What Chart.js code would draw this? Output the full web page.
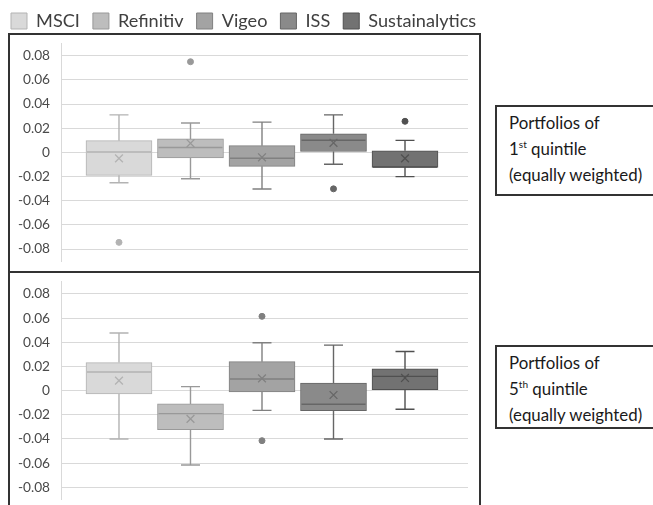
<!DOCTYPE html>
<html>
<head>
<meta charset="utf-8">
<script src="https://cdn.jsdelivr.net/npm/chart.js@4/dist/chart.umd.min.js"></script>
<style>
  html, body { margin: 0; padding: 0; background: #fff; }
  body { width: 653px; height: 505px; overflow: hidden; position: relative; font-family: Lato, "Open Sans", sans-serif; }
  canvas { position: absolute; left: 0; }
  #c1 { top: 0; }
  #c2 { top: 260px; }
  .frame { position: absolute; left: 8px; top: 33px; width: 473px; height: 520px; border: 2px solid #333; box-sizing: border-box; z-index: 3; pointer-events: none; }
  .divider { position: absolute; left: 8px; top: 271px; width: 473px; height: 2px; background: #333; z-index: 3; }
  .note { position: absolute; left: 495px; width: 190px; border: 2px solid #333; box-sizing: border-box; background: #fff; color: #1a1a1a; padding: 3px 0 0 12px; line-height: 26px; white-space: nowrap; z-index: 4; }
  .note sup { font-size: 0.6em; line-height: 0; vertical-align: 0.7em; }
</style>
</head>
<body>
<div class="frame"></div>
<div class="divider"></div>
<canvas id="c1" width="520" height="285" style="width:520px;height:285px"></canvas>
<canvas id="c2" width="520" height="260" style="width:520px;height:260px"></canvas>
<div class="note" id="n1" style="top:105px;height:91px">Portfolios of<br>1<sup>st</sup> quintile<br>(equally weighted)</div>
<div class="note" id="n2" style="top:345px;height:84px">Portfolios of<br>5<sup>th</sup> quintile<br>(equally weighted)</div>
<script>
// ---------- data ----------
const SERIES = ['MSCI', 'Refinitiv', 'Vigeo', 'ISS', 'Sustainalytics'];
const Y_TICKS = [0.08, 0.06, 0.04, 0.02, 0, -0.02, -0.04, -0.06, -0.08];

// Portfolios of 1st quintile (equally weighted)
const Q1_MIN      = [-0.0251, -0.0218, -0.0303, -0.0098, -0.0201];
const Q1_LOWER    = [-0.0190, -0.0046, -0.0116,  0.0007, -0.0124];
const Q1_MEDIAN   = [ 0.0003,  0.0040, -0.0049,  0.0100, -0.0121];
const Q1_UPPER    = [ 0.0097,  0.0111,  0.0055,  0.0154,  0.0013];
const Q1_MAX      = [ 0.0310,  0.0243,  0.0250,  0.0310,  0.0099];
const Q1_MEAN     = [-0.0050,  0.0075, -0.0041,  0.0079, -0.0050];
const Q1_OUTLIERS = [[-0.0745], [0.0750], [], [-0.0302], [0.0257]];

// Portfolios of 5th quintile (equally weighted)
const Q5_MIN      = [-0.0400, -0.0615, -0.0163, -0.0400, -0.0154];
const Q5_LOWER    = [-0.0028, -0.0323, -0.0011, -0.0166,  0.0008];
const Q5_MEDIAN   = [ 0.0154, -0.0190,  0.0097, -0.0113,  0.0118];
const Q5_UPPER    = [ 0.0232, -0.0110,  0.0240,  0.0063,  0.0180];
const Q5_MAX      = [ 0.0477,  0.0033,  0.0397,  0.0377,  0.0324];
const Q5_MEAN     = [ 0.0083, -0.0234,  0.0102, -0.0036,  0.0105];
const Q5_OUTLIERS = [[], [], [0.0615, -0.0414], [], []];

// ---------- styles ----------
const FILL = ['#d9d9d9', '#bdbdbd', '#a3a3a3', '#8a8a8a', '#727272'];
const LINE = ['#b3b3b3', '#999999', '#808080', '#666666', '#505050'];
const FONT = 'Lato';

function fitSize(text, target) {
  const c = document.createElement('canvas').getContext('2d');
  c.font = '100px ' + FONT;
  return 100 * target / c.measureText(text).width;
}
const legendFs = fitSize('Sustainalytics', 108);
const tickFs = fitSize('0.08', 27);
const noteFs = fitSize('(equally weighted)', 134);
document.getElementById('n1').style.fontSize = noteFs + 'px';
document.getElementById('n2').style.fontSize = noteFs + 'px';

Chart.defaults.font.family = FONT;
Chart.defaults.animation = false;

function whiskerPlugin(st) {
  return {
    id: 'whiskers',
    afterDatasetDraw(chart, args) {
      const meta = args.meta;
      if (meta.type !== 'bar') return;
      const i = args.index;
      const bar = meta.data[0];
      if (!bar) return;
      const y = chart.scales.y;
      const ctx = chart.ctx;
      const x = bar.x, half = bar.width / 2, cap = 9.5;
      ctx.save();
      ctx.strokeStyle = LINE[i];
      ctx.lineWidth = 1.4;
      ctx.beginPath();
      ctx.moveTo(x, y.getPixelForValue(st.upper[i])); ctx.lineTo(x, y.getPixelForValue(st.max[i]));
      ctx.moveTo(x - cap, y.getPixelForValue(st.max[i])); ctx.lineTo(x + cap, y.getPixelForValue(st.max[i]));
      ctx.moveTo(x, y.getPixelForValue(st.lower[i])); ctx.lineTo(x, y.getPixelForValue(st.min[i]));
      ctx.moveTo(x - cap, y.getPixelForValue(st.min[i])); ctx.lineTo(x + cap, y.getPixelForValue(st.min[i]));
      ctx.moveTo(x - half + 1, y.getPixelForValue(st.median[i])); ctx.lineTo(x + half - 1, y.getPixelForValue(st.median[i]));
      ctx.stroke();
      ctx.restore();
    }
  };
}

function legendGap(extra) {
  return {
    id: 'legendGap',
    beforeUpdate(chart) {
      const lg = chart.legend;
      if (!lg || lg._gapPatched) return;
      const fit = lg.fit;
      lg.fit = function () { fit.call(this); if (this.options.display) this.height += extra; };
      lg._gapPatched = true;
    }
  };
}

function makeChart(canvasId, st, showLegend, areaTop, areaBottom, canvasH) {
  const datasets = SERIES.map((name, i) => ({
    type: 'bar',
    label: name,
    data: [{ x: i, y: [st.lower[i], st.upper[i]] }],
    backgroundColor: FILL[i],
    borderColor: LINE[i],
    borderWidth: 1,
    borderSkipped: false,
    grouped: false,
    barPercentage: 1,
    categoryPercentage: 1,
    maxBarThickness: 66,
    order: 2
  }));
  const outPts = [], outCol = [];
  st.outliers.forEach((arr, i) => arr.forEach(v => { outPts.push({ x: i, y: v }); outCol.push(LINE[i]); }));
  datasets.push({
    type: 'scatter', label: 'mean',
    data: SERIES.map((_, i) => ({ x: i, y: st.mean[i] })),
    pointStyle: 'crossRot', pointRadius: 5.5, pointBorderWidth: 1.3,
    pointBorderColor: LINE, pointBackgroundColor: 'rgba(0,0,0,0)', order: 1
  });
  datasets.push({
    type: 'scatter', label: 'outliers',
    data: outPts,
    pointStyle: 'circle', pointRadius: 3, pointBorderWidth: 1,
    pointBorderColor: outCol, pointBackgroundColor: outCol, order: 1
  });

  const pad = 13, boxH = 16, leftShift = -2;
  const itemH = Math.max(legendFs, boxH);
  let padTop = areaTop, extra = 0;
  if (showLegend) {
    padTop = 13 - pad - Math.max((legendFs - boxH) / 2, 0);
    extra = areaTop - (padTop + itemH + pad + 10);
  }

  return new Chart(document.getElementById(canvasId), {
    type: 'bar',
    data: { datasets },
    plugins: [whiskerPlugin(st), legendGap(extra)],
    options: {
      responsive: false,
      events: [],
      layout: { padding: { left: leftShift, right: 0, top: padTop, bottom: canvasH - areaBottom } },
      plugins: {
        tooltip: { enabled: false },
        title: { display: false },
        legend: {
          display: showLegend,
          position: 'top',
          align: 'start',
          labels: {
            boxWidth: 16, boxHeight: boxH, padding: pad,
            color: '#404040',
            font: { size: legendFs, family: FONT },
            filter: (item) => item.datasetIndex < SERIES.length
          }
        }
      },
      scales: {
        x: {
          type: 'linear', display: false, offset: false, min: -0.811, max: 4.881,
          afterBuildTicks: (s) => { s.ticks = SERIES.map((_, i) => ({ value: i })); }
        },
        y: {
          type: 'linear', position: 'left', min: -0.09, max: 0.09,
          afterBuildTicks: (s) => { s.ticks = Y_TICKS.map(v => ({ value: v })); },
          afterFit: (s) => { s.width = 61 - leftShift; },
          grid: { color: '#d9d9d9', lineWidth: 1, drawTicks: true, tickLength: 11, tickColor: 'rgba(0,0,0,0)' },
          border: { display: true, color: '#d9d9d9', width: 1 },
          ticks: {
            padding: 0, color: '#4a4a4a',
            font: { size: tickFs, family: FONT },
            callback: (v) => (v === 0 ? '0' : Number(v).toFixed(2))
          }
        },
        yR: {
          type: 'linear', axis: 'y', position: 'right',
          ticks: { display: false }, grid: { display: false }, border: { display: false },
          afterFit: (s) => { s.width = 52; }
        }
      }
    }
  });
}

const P1 = { min: Q1_MIN, lower: Q1_LOWER, median: Q1_MEDIAN, upper: Q1_UPPER, max: Q1_MAX, mean: Q1_MEAN, outliers: Q1_OUTLIERS };
const P5 = { min: Q5_MIN, lower: Q5_LOWER, median: Q5_MEDIAN, upper: Q5_UPPER, max: Q5_MAX, mean: Q5_MEAN, outliers: Q5_OUTLIERS };

makeChart('c1', P1, true, 43.6, 261.1, 285);
makeChart('c2', P5, false, 21.9, 239.4, 260);
</script>
</body>
</html>
